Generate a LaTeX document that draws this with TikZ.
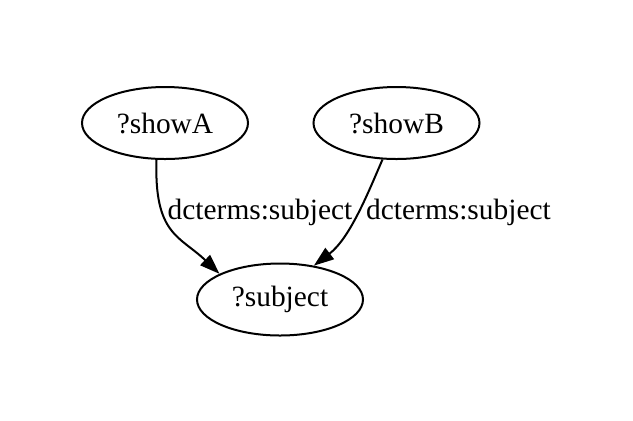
\documentclass[tikz,border=0pt]{standalone}
\usepackage{fontspec}
\setmainfont{Liberation Serif}
\usetikzlibrary{shapes.geometric,arrows.meta}
\begin{document}
\begin{tikzpicture}[x=0.5pt,y=-0.5pt,
  gnode/.style={draw,ellipse,line width=1pt,inner sep=0pt,minimum width=83pt,minimum height=36pt,font=\fontsize{14.7pt}{17pt}\selectfont},
  glabel/.style={inner sep=0pt,font=\fontsize{14.7pt}{17pt}\selectfont},
  gedge/.style={line width=1pt,-{Triangle[length=10pt,width=7pt]}}]
\useasboundingbox (0,0) rectangle (633,420);
\node[gnode] (a) at (165,123) {?showA};
\node[gnode] (b) at (396.5,123) {?showB};
\node[gnode] (s) at (280,299.5) {?subject};
\draw[gedge] (a.257) .. controls (154,235) and (180,236) .. (s.157);
\draw[gedge] (b.249) .. controls (368,193) and (350,238) .. (s.45);
\node[glabel] (la) at (260,212) {dcterms:subject};
\node[glabel] (lb) at (458.5,212) {dcterms:subject};
\end{tikzpicture}
\end{document}
